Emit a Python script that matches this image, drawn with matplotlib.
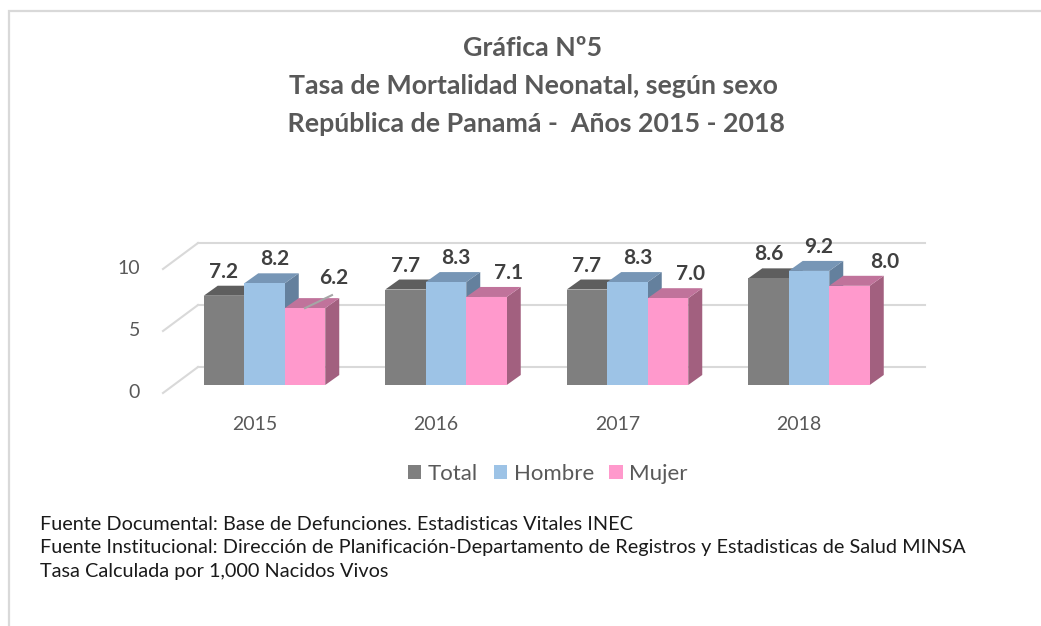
import matplotlib
matplotlib.use("Agg")
import matplotlib.pyplot as plt
from matplotlib.patches import Polygon, Rectangle, Patch

# datos
years = ["2015", "2016", "2017", "2018"]
series = ["Total", "Hombre", "Mujer"]
total = [7.2, 7.7, 7.7, 8.6]
hombre = [8.2, 8.3, 8.3, 9.2]
mujer = [6.2, 7.1, 7.0, 8.0]
yticks = [0, 5, 10]

title = "Gráfica Nº5\nTasa de Mortalidad Neonatal, según sexo\n República de Panamá -  Años 2015 - 2018"
notes = ["Fuente Documental: Base de Defunciones. Estadisticas Vitales INEC",
         "Fuente Institucional: Dirección de Planificación-Departamento de Registros y Estadisticas de Salud MINSA",
         "Tasa Calculada por 1,000 Nacidos Vivos"]

front = ["#7f7f7f", "#9dc3e6", "#ff99cc"]
top_c = ["#5e5e5e", "#7796b6", "#c0739b"]
side_c = ["#5a5a5a", "#64809d", "#a2607f"]

FONT = "Lato"
W, H = 1041, 626
fig = plt.figure(figsize=(W / 100, H / 100), dpi=100)
fig.patch.set_facecolor("white")

# escala: 1 grupo = 181.5 px, 1 unidad = 12.4 px ; origen en la cara frontal
sx, sy = 181.5, 12.4
ox, oy = 264.5, 385
ax = fig.add_axes([0, 0, 1, 1])
ax.set_xlim((0 - ox) / sx, (W - ox) / sx)
ax.set_ylim((oy - H) / sy, oy / sy)
ax.axis("off")

# marco del grafico
fig.patches.append(Rectangle((9 / W, -0.1), 1.1, 1 - 11 / H + 0.1, transform=fig.transFigure,
                             fill=False, edgecolor="#d9d9d9", lw=1.6))

bw = 40.5 / sx
dx, dy = 14 / sx, 10 / sy          # profundidad de la barra
wall_dx, wall_dy = 66.5 / sx, 18 / sy   # pared del fondo respecto al frente
floor_dx, floor_dy = 101.5 / sx, -8 / sy
grid_right = (925 - ox) / sx

for v in yticks:
    ax.plot([-wall_dx, grid_right], [v + wall_dy, v + wall_dy], color="#d9d9d9", lw=1.5, zorder=1)
    ax.plot([-floor_dx, -wall_dx], [v + floor_dy, v + wall_dy], color="#d9d9d9", lw=1.5, zorder=1)
    ax.text(-floor_dx - 23 / sx, v + floor_dy, str(v), ha="right", va="center",
            fontsize=14, color="#595959", family=FONT)

for i, y in enumerate(years):
    ax.text(i - 10 / sx, -40 / sy, y, ha="center", va="center", fontsize=14,
            color="#595959", family=FONT)

vals = [total, hombre, mujer]
lab_dx = [0, 10, 22]
extra = {(2, 0): (7, 6), (2, 3): (13, 0)}
z = 2
for i in range(len(years)):
    for j in range(3):
        v = vals[j][i]
        x0 = i - 1.5 * bw + j * bw
        side = Polygon([(x0 + bw, 0), (x0 + bw + dx, dy), (x0 + bw + dx, v + dy), (x0 + bw, v)],
                       closed=True, facecolor=side_c[j], edgecolor="none", zorder=z)
        topf = Polygon([(x0, v), (x0 + dx, v + dy), (x0 + bw + dx, v + dy), (x0 + bw, v)],
                       closed=True, facecolor=top_c[j], edgecolor="none", zorder=z)
        ax.add_patch(side)
        ax.add_patch(topf)
        ax.bar(x0, v, width=bw, align="edge", color=front[j], edgecolor="none", zorder=z + 0.5)
        z += 1
        ex, ey = extra.get((j, i), (0, 0))
        tx = x0 + bw / 2 + (lab_dx[j] + ex) / sx
        ty = v + (24 + ey) / sy
        ax.text(tx, ty, f"{v:.1f}", ha="center", va="center", fontsize=15,
                fontweight="bold", color="#404040", family=FONT, zorder=50)
        if (j, i) == (2, 0):
            ax.plot([x0 + bw / 2, tx - 2 / sx], [v, ty - 17 / sy], color="#a6a6a6", lw=1.5, zorder=40)

fig.text(533 / W, 1 - 86 / H, title, ha="center", va="center", fontsize=19.3, fontweight="bold",
         color="#595959", family=FONT, linespacing=1.72)

handles = [Patch(facecolor=c, edgecolor="none") for c in front]
leg = fig.legend(handles, series, loc="center", bbox_to_anchor=(548 / W, 1 - 474 / H),
                 ncol=3, frameon=False, handlelength=0.6, handleheight=0.6,
                 handletextpad=0.3, columnspacing=0.7, prop={"family": FONT, "size": 16})
for t in leg.get_texts():
    t.set_color("#595959")

for k, n in enumerate(notes):
    fig.text(40 / W, 1 - (525 + 23 * k) / H, n, ha="left", va="center", fontsize=14.3,
             color="#1a1a1a", family=FONT)

fig.savefig("out.png", dpi=100)
